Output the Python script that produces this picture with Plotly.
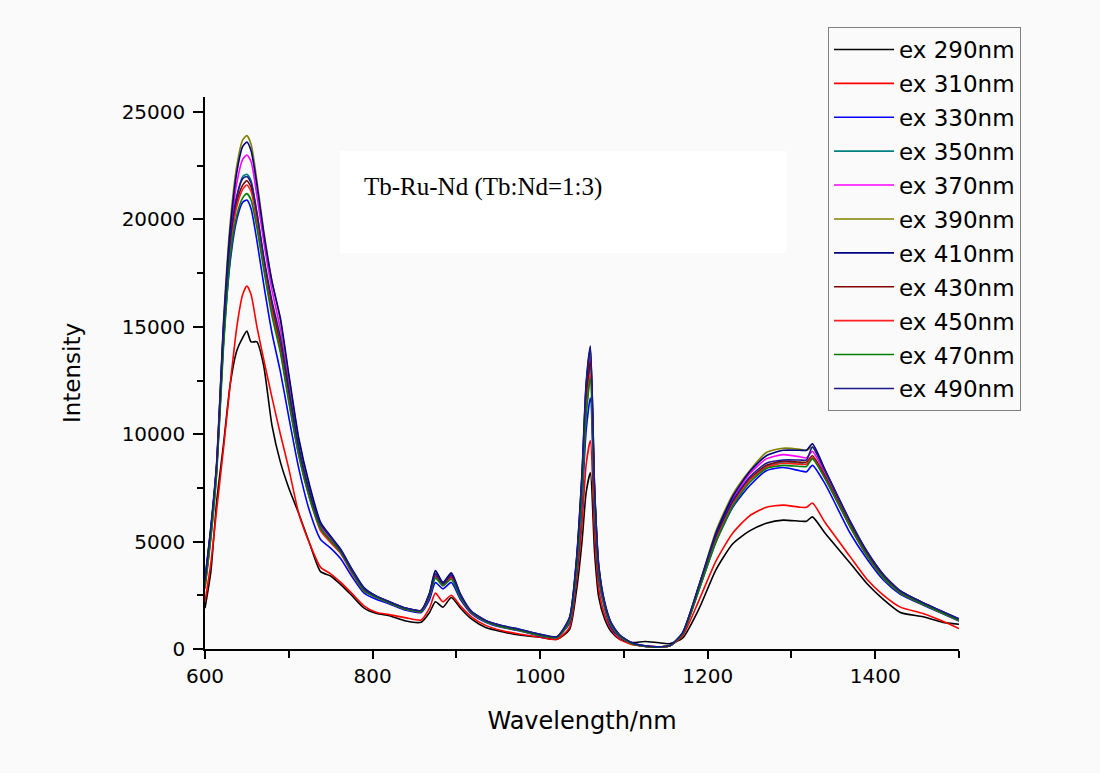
import plotly.graph_objects as go

wavelength = [600, 607, 614, 622, 630, 638, 645, 650, 655, 662,
              670, 680, 690, 700, 712, 725, 738, 750, 762, 775,
              790, 805, 820, 840, 858, 868, 875, 884, 894, 905,
              918, 935, 955, 975, 1000, 1020, 1035, 1043, 1050, 1055,
              1060, 1065, 1070, 1077, 1085, 1095, 1110, 1125, 1140, 1155,
              1170, 1190, 1210, 1230, 1250, 1270, 1290, 1310, 1318, 1325,
              1340, 1370, 1390, 1410, 1430, 1457, 1480, 1500]

ex290 = [1900, 3600, 6900, 9500, 12300, 13900, 14500, 14800, 14300, 14300,
         13200, 10400, 8700, 7500, 6300, 4900, 3600, 3400, 3000, 2500,
         1900, 1650, 1550, 1300, 1250, 1700, 2200, 1950, 2400, 1900,
         1400, 1000, 800, 650, 550, 450, 900, 2600, 5000, 7300,
         8200, 4500, 2400, 1400, 800, 450, 300, 350, 300, 250,
         500, 1900, 3700, 4900, 5500, 5850, 6000, 5950, 5950, 6150,
         5400, 4000, 3050, 2300, 1700, 1500, 1250, 1150]
ex310 = [2200, 4000, 6500, 9300, 12300, 15000, 16500, 16900, 16500, 15000,
         13500, 11700, 10000, 8400, 6300, 4900, 3800, 3500, 3100, 2600,
         2000, 1700, 1600, 1450, 1350, 1900, 2600, 2200, 2500, 2000,
         1500, 1100, 850, 700, 550, 450, 1000, 3000, 5800, 8600,
         9700, 5300, 2800, 1600, 900, 450, 200, 150, 100, 150,
         600, 2300, 4100, 5400, 6200, 6600, 6700, 6600, 6600, 6800,
         5900, 4300, 3250, 2500, 1950, 1650, 1300, 950]
ex330 = [3300, 5600, 8500, 14200, 18000, 20000, 20800, 20900, 20500, 19000,
         17000, 14700, 12900, 10800, 8400, 6400, 5100, 4700, 4200, 3400,
         2600, 2300, 2100, 1800, 1700, 2300, 3100, 2800, 3100, 2300,
         1650, 1250, 1000, 850, 600, 550, 1200, 3300, 6800, 10200,
         11700, 6300, 3300, 1900, 1000, 550, 250, 120, 80, 150,
         700, 2800, 5000, 6600, 7600, 8300, 8450, 8300, 8250, 8550,
         7700, 5400, 4200, 3200, 2550, 2050, 1650, 1300]
ex350 = [3000, 5400, 8500, 14600, 18800, 21000, 22000, 22100, 21800, 20300,
         18200, 16000, 14200, 11900, 9200, 7100, 5600, 5000, 4500, 3600,
         2700, 2400, 2150, 1850, 1750, 2500, 3400, 3000, 3300, 2400,
         1700, 1280, 1030, 880, 630, 540, 1300, 3600, 7500, 11400,
         13200, 7000, 3600, 2000, 1100, 600, 250, 130, 90, 150,
         700, 2900, 5200, 6800, 7900, 8500, 8700, 8650, 8600, 8900,
         8000, 5700, 4400, 3350, 2650, 2100, 1700, 1350]
ex370 = [3100, 5500, 8600, 14900, 19200, 21700, 22800, 23000, 22700, 21100,
         19000, 16700, 14900, 12400, 9500, 7300, 5700, 5100, 4600, 3650,
         2750, 2450, 2200, 1900, 1800, 2550, 3500, 3050, 3400, 2450,
         1700, 1300, 1050, 900, 650, 550, 1350, 3800, 7800, 11800,
         13600, 7300, 3700, 2100, 1150, 600, 250, 130, 90, 150,
         700, 2900, 5300, 7000, 8150, 8850, 9050, 8950, 8900, 9200,
         8150, 5800, 4450, 3400, 2650, 2100, 1700, 1350]
ex390 = [3000, 5500, 8700, 15200, 19800, 22500, 23700, 23900, 23500, 21800,
         19500, 17100, 15300, 12700, 9700, 7500, 5800, 5200, 4600, 3700,
         2800, 2450, 2200, 1900, 1800, 2600, 3600, 3100, 3500, 2500,
         1700, 1300, 1050, 900, 650, 550, 1400, 3900, 8000, 12200,
         13900, 7400, 3800, 2100, 1150, 600, 250, 130, 90, 150,
         750, 3000, 5500, 7200, 8300, 9150, 9350, 9300, 9250, 9400,
         8300, 5900, 4500, 3450, 2700, 2150, 1750, 1350]
ex410 = [3100, 5600, 8600, 15000, 19500, 22200, 23400, 23600, 23200, 21600,
         19400, 17100, 15400, 12800, 9800, 7600, 5900, 5250, 4650, 3750,
         2850, 2450, 2200, 1900, 1800, 2600, 3650, 3100, 3550, 2550,
         1750, 1330, 1080, 920, 680, 570, 1450, 4000, 8200, 12400,
         14100, 7500, 3900, 2200, 1200, 650, 280, 150, 100, 170,
         750, 3000, 5400, 7100, 8250, 9000, 9250, 9250, 9250, 9550,
         8350, 5950, 4550, 3450, 2700, 2150, 1750, 1400]
ex430 = [2900, 5300, 8400, 14500, 18700, 20800, 21600, 21800, 21500, 20100,
         18100, 15900, 14100, 11800, 9100, 7100, 5600, 5000, 4500, 3600,
         2700, 2400, 2150, 1850, 1750, 2500, 3400, 3000, 3350, 2450,
         1700, 1300, 1050, 880, 640, 550, 1350, 3700, 7700, 11600,
         13400, 7200, 3700, 2050, 1100, 600, 250, 130, 90, 150,
         700, 2900, 5200, 6800, 7900, 8550, 8750, 8700, 8700, 9000,
         8050, 5750, 4400, 3350, 2650, 2100, 1700, 1350]
ex450 = [2800, 5200, 8300, 14300, 18500, 20600, 21400, 21600, 21300, 19900,
         17900, 15700, 13900, 11600, 9000, 7000, 5500, 4950, 4450, 3550,
         2700, 2400, 2150, 1850, 1750, 2450, 3350, 2950, 3300, 2400,
         1700, 1280, 1030, 870, 630, 540, 1300, 3500, 7300, 11100,
         12800, 6900, 3600, 2000, 1100, 600, 250, 130, 90, 150,
         700, 2850, 5100, 6750, 7850, 8450, 8650, 8600, 8600, 8900,
         7950, 5700, 4350, 3300, 2600, 2080, 1680, 1330]
ex470 = [2900, 5200, 8200, 14000, 18200, 20200, 21000, 21200, 20900, 19600,
         17700, 15500, 13800, 11500, 9000, 7000, 5600, 5050, 4500, 3600,
         2700, 2400, 2150, 1850, 1750, 2450, 3300, 2950, 3250, 2400,
         1700, 1280, 1030, 870, 630, 540, 1300, 3500, 7200, 10900,
         12600, 6800, 3500, 2000, 1100, 600, 250, 130, 90, 150,
         700, 2800, 5000, 6650, 7750, 8400, 8550, 8500, 8500, 8850,
         7950, 5700, 4350, 3300, 2600, 2080, 1680, 1330]
ex490 = [3200, 5700, 8700, 14800, 19000, 21100, 21900, 22000, 21700, 20300,
         18300, 16200, 14500, 12100, 9400, 7300, 5800, 5200, 4600, 3700,
         2800, 2450, 2200, 1900, 1800, 2550, 3500, 3050, 3450, 2500,
         1750, 1330, 1080, 920, 680, 570, 1450, 3950, 8100, 12300,
         14000, 7500, 3850, 2150, 1200, 650, 280, 150, 100, 170,
         750, 3000, 5300, 6900, 8000, 8650, 8800, 8800, 8800, 9400,
         8300, 5950, 4550, 3450, 2700, 2150, 1750, 1400]

series_names = ["ex 290nm", "ex 310nm", "ex 330nm", "ex 350nm", "ex 370nm", "ex 390nm",
                "ex 410nm", "ex 430nm", "ex 450nm", "ex 470nm", "ex 490nm"]
series_values = [ex290, ex310, ex330, ex350, ex370, ex390,
                 ex410, ex430, ex450, ex470, ex490]
series_colors = ["#000000", "#ff0000", "#0000ff", "#008080", "#ff00ff", "#808000",
                 "#000080", "#800000", "#ff2020", "#008000", "#1a1a8c"]

x_ticks = [600, 800, 1000, 1200, 1400]
y_ticks = [0, 5000, 10000, 15000, 20000, 25000]

BG = "#fafafa"
fig = go.Figure()
for name, vals, col in zip(series_names, series_values, series_colors):
    fig.add_trace(go.Scatter(x=wavelength, y=vals, mode="lines", name=name,
                             legendgroup=name,
                             line=dict(color=col, width=1.6, shape="spline",
                                       smoothing=0.6)))

axis_font = dict(family="DejaVu Sans", size=20, color="black")
fig.update_layout(
    width=1100, height=773,
    paper_bgcolor=BG, plot_bgcolor=BG,
    margin=dict(l=205, r=141, t=97, b=124),
    showlegend=True,
    legend=dict(x=0.8263, y=1.1268, xanchor="left", yanchor="top",
                bgcolor=BG, bordercolor="#808080", borderwidth=1,
                font=dict(family="DejaVu Sans", size=23, color="black"),
                tracegroupgap=1, itemwidth=60, maxheight=740),
    xaxis=dict(range=[600, 1500], tickvals=x_ticks, ticks="outside", ticklen=8,
               tickwidth=1.5, tickcolor="black", showline=True, linecolor="black",
               linewidth=1.5, showgrid=False, zeroline=False, tickfont=axis_font,
               minor=dict(dtick=100, tick0=600, ticks="outside", ticklen=7,
                          tickwidth=1.5, tickcolor="black", showgrid=False),
               title=dict(text="Wavelength/nm",
                          font=dict(family="DejaVu Sans", size=24, color="black"),
                          standoff=25)),
    yaxis=dict(range=[0, 25700], tickvals=y_ticks, tickformat="d", ticks="outside",
               ticklen=10, tickwidth=1.5, tickcolor="black", showline=True,
               linecolor="black", linewidth=1.5, showgrid=False, zeroline=False,
               tickfont=axis_font, ticklabelstandoff=4,
               minor=dict(dtick=2500, tick0=0, ticks="outside", ticklen=6,
                          tickwidth=1.5, tickcolor="black", showgrid=False),
               title=dict(text="Intensity",
                          font=dict(family="DejaVu Sans", size=23, color="black"),
                          standoff=35)),
)

fig.add_shape(type="rect", xref="paper", yref="paper",
              x0=0.179, x1=0.771, y0=0.717, y1=0.902,
              fillcolor="white", line=dict(width=0), layer="below")
fig.add_annotation(text="Tb-Ru-Nd (Tb:Nd=1:3)", xref="paper", yref="paper",
                   x=0.208, y=0.837, xanchor="left", yanchor="middle", showarrow=False,
                   font=dict(family="Liberation Serif", size=25, color="black"))

fig.write_html("out.html", config={"displayModeBar": False},
               post_script="document.body.style.margin='0';"
                           "document.body.style.background='" + BG + "';")
